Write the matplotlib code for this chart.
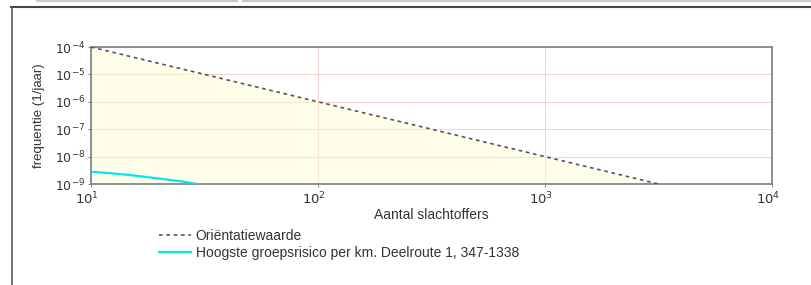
import matplotlib
matplotlib.use('Agg')
import matplotlib.pyplot as plt
from matplotlib.lines import Line2D
from matplotlib.transforms import ScaledTranslation

plt.rcParams['font.family'] = ['Liberation Sans', 'DejaVu Sans']

# orientatiewaarde (10^-2 / N^2)
ow_n = [10, 100, 1000, 3162]
ow_f = [1e-4, 1e-6, 1e-8, 1e-9]

# hoogste groepsrisico per km
gr_n = [10, 12, 15, 18, 21, 25, 29, 32]
gr_f = [2.8e-9, 2.5e-9, 2.1e-9, 1.75e-9, 1.5e-9, 1.25e-9, 1.02e-9, 0.85e-9]

xticks = [10, 100, 1000, 10000]
xlabels = ['$10^{1}$', '$10^{2}$', '$10^{3}$', '$10^{4}$']
yticks = [1e-9, 1e-8, 1e-7, 1e-6, 1e-5, 1e-4]
ylabels = ['$10^{-9}$', '$10^{-8}$', '$10^{-7}$', '$10^{-6}$', '$10^{-5}$', '$10^{-4}$']

fig = plt.figure(figsize=(8.11, 2.85), dpi=100)
ax = fig.add_axes([91/811, 1-184/285, 681/811, 137/285])

ax.set_xscale('log')
ax.set_yscale('log')
ax.set_xlim(10, 10000)
ax.set_ylim(1e-9, 1e-4)

for y in yticks[1:-1]:
    ax.axhline(y, color='#f5d3d3', lw=0.8, zorder=1)
for x in xticks[1:-1]:
    ax.axvline(x, color='#f5d3d3', lw=0.8, zorder=1)

ax.fill_between(ow_n, ow_f, 1e-9, color='#ffffd0', alpha=0.45, lw=0, zorder=2)
ax.plot(ow_n, ow_f, color='#555555', ls=(0, (2.2, 2.2)), lw=1.2, zorder=3, label='Oriëntatiewaarde')
ax.plot(gr_n, gr_f, color='#00e8f0', lw=1.6, zorder=3, clip_on=True,
        label='Hoogste groepsrisico per km. Deelroute 1, 347-1338')

ax.set_xticks(xticks)
ax.set_xticklabels(xlabels)
ax.set_yticks(yticks)
ax.set_yticklabels(ylabels)
ax.minorticks_off()
ax.tick_params(length=2, width=0.6, colors='#777777', labelcolor='#333333', labelsize=9.5, pad=2)
ax.tick_params(axis='y', labelsize=9)
ax.tick_params(axis='x', pad=3)
for lab in ax.get_xticklabels():
    lab.set_transform(lab.get_transform() + ScaledTranslation(-4/100, 0, fig.dpi_scale_trans))
for s in ax.spines.values():
    s.set_color('#7a7a8a')
    s.set_linewidth(1.2)

ax.set_xlabel('Aantal slachtoffers', fontsize=10, color='#333333', labelpad=0)
ax.set_ylabel('frequentie (1/jaar)', fontsize=9.5, color='#333333', labelpad=7)

h, l = ax.get_legend_handles_labels()
fig.legend(h, l, loc='upper left', bbox_to_anchor=(159/811, 1-229/285), frameon=False,
           fontsize=10, handlelength=2.3, handletextpad=0.35, labelspacing=0.2,
           labelcolor='#333333', borderaxespad=0, borderpad=0)

# outer frame
fig.add_artist(Line2D([11/811, 1], [1-7/285, 1-7/285], color='#444455', lw=1.5))
fig.add_artist(Line2D([12/811, 12/811], [1-7/285, 0], color='#555566', lw=1.2))
fig.add_artist(Line2D([37/811, 237/811], [1-1/285, 1-1/285], color='#cccccc', lw=1.5))
fig.add_artist(Line2D([243/811, 1], [1-1/285, 1-1/285], color='#cccccc', lw=1.5))

fig.savefig('out.png', dpi=100)
